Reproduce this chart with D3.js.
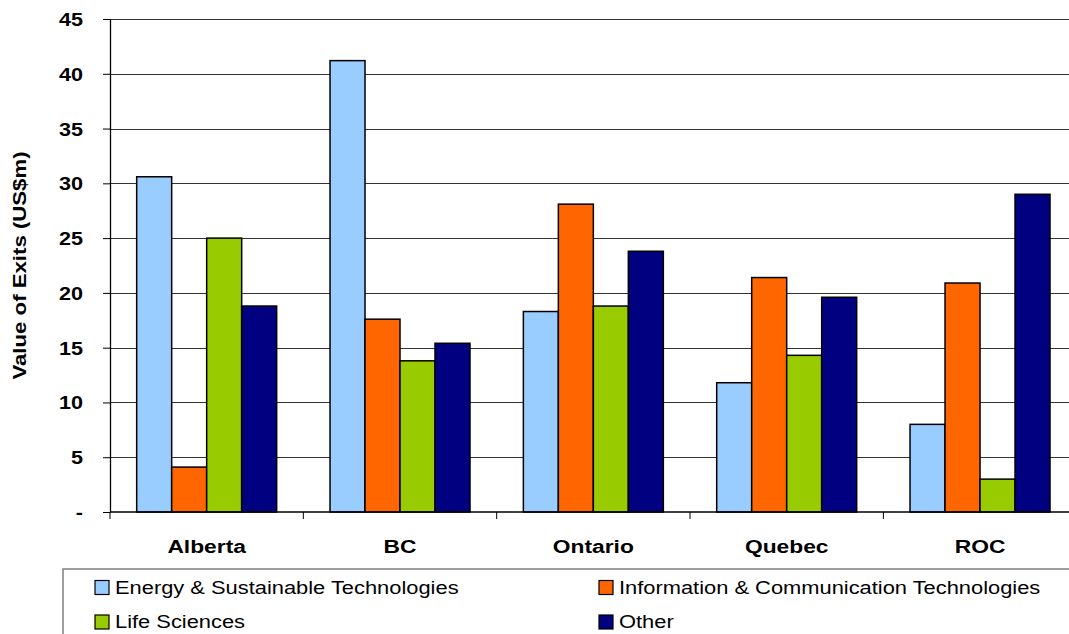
<!DOCTYPE html>
<html>
<head>
<meta charset="utf-8">
<script src="https://cdn.jsdelivr.net/npm/d3@7"></script>
<style>
  html, body { margin: 0; padding: 0; background: #fff; }
  svg { display: block; font-family: Arial, "Liberation Sans", sans-serif; }
</style>
</head>
<body>
<svg id="chart" width="1069" height="634"></svg>
<script>
const categories = ["Alberta", "BC", "Ontario", "Quebec", "ROC"];
const seriesNames = ["Energy & Sustainable Technologies", "Information & Communication Technologies", "Life Sciences", "Other"];
const energy = [30.6, 41.2, 18.3, 11.8, 8.0];
const ict = [4.1, 17.6, 28.1, 21.4, 20.9];
const lifeSciences = [25.0, 13.8, 18.8, 14.3, 3.0];
const other = [18.8, 15.4, 23.8, 19.6, 29.0];
const yTicks = [0, 5, 10, 15, 20, 25, 30, 35, 40, 45];
const colors = ["#99CCFF", "#FF6600", "#99CC00", "#000080"];

const seriesValues = [energy, ict, lifeSciences, other];
const SX = 1.2; // horizontal glyph stretch to match reference rendering

const svg = d3.select("#chart");
const plot = { left: 110, right: 1076.7, top: 19, bottom: 512 };

const y = d3.scaleLinear().domain([0, 45]).range([plot.bottom, plot.top]);
const x = d3.scaleBand().domain(categories).range([plot.left, plot.right]).padding(0);
const cw = x.bandwidth();
const xs = d3.scaleBand().domain(d3.range(seriesValues.length))
  .range([cw * 0.138, cw * 0.862]).padding(0);

// gridlines
svg.append("g").selectAll("line").data(yTicks.filter(d => d > 0)).join("line")
  .attr("x1", plot.left).attr("x2", plot.right)
  .attr("y1", d => Math.round(y(d)) + 0.5).attr("y2", d => Math.round(y(d)) + 0.5)
  .attr("stroke", "#333").attr("stroke-width", 1.2);

// bars
const groups = svg.append("g").selectAll("g").data(categories).join("g")
  .attr("transform", d => `translate(${x(d)},0)`);
groups.selectAll("rect").data((c, ci) => seriesValues.map((s, si) => ({ si, v: s[ci] }))).join("rect")
  .attr("x", d => xs(d.si))
  .attr("width", xs.bandwidth())
  .attr("y", d => y(d.v))
  .attr("height", d => y(0) - y(d.v))
  .attr("fill", d => colors[d.si])
  .attr("stroke", "#000").attr("stroke-width", 1.5);

// y axis
const yAxis = svg.append("g").attr("transform", `translate(${plot.left},0)`)
  .call(d3.axisLeft(y).tickValues(yTicks).tickSize(7).tickSizeOuter(0)
    .tickFormat(d => d === 0 ? "-" : d));
yAxis.select(".domain").attr("stroke", "#000").attr("stroke-width", 1.3);
yAxis.selectAll(".tick line").attr("stroke", "#000");
yAxis.selectAll(".tick text")
  .attr("x", 0).attr("dy", "0.36em")
  .attr("transform", `translate(-27,0) scale(${SX},1)`)
  .attr("fill", "#000").attr("font-size", 18).attr("font-weight", "bold")
  .attr("font-family", "Arial, 'Liberation Sans', sans-serif");

// x axis baseline
svg.append("line").attr("x1", plot.left).attr("x2", plot.right)
  .attr("y1", y(0)).attr("y2", y(0)).attr("stroke", "#000").attr("stroke-width", 1.5);
// boundary ticks
const bounds = categories.map(c => x(c)).concat([x(categories[categories.length - 1]) + cw]);
svg.append("g").selectAll("line").data(bounds).join("line")
  .attr("x1", d => d).attr("x2", d => d)
  .attr("y1", y(0)).attr("y2", y(0) + 7).attr("stroke", "#000").attr("stroke-width", 1);
// category labels
const xAxis = svg.append("g").attr("transform", `translate(0,${plot.bottom})`)
  .call(d3.axisBottom(x).tickSize(0));
xAxis.select(".domain").remove();
xAxis.selectAll(".tick text")
  .attr("y", 0).attr("dy", 0)
  .attr("transform", `translate(0,41) scale(${SX},1)`)
  .attr("fill", "#000").attr("font-size", 19).attr("font-weight", "bold")
  .attr("font-family", "Arial, 'Liberation Sans', sans-serif");

// y axis title
svg.append("text")
  .attr("transform", `translate(26,${(plot.top + plot.bottom) / 2}) rotate(-90) scale(${SX},1)`)
  .attr("text-anchor", "middle")
  .attr("font-size", 18.5).attr("font-weight", "bold").attr("fill", "#000")
  .text("Value of Exits (US$m)");

// legend
svg.append("rect").attr("x", 63).attr("y", 569).attr("width", 1100).attr("height", 120)
  .attr("fill", "#fff").attr("stroke", "#808080").attr("stroke-width", 1.5);
const legendPos = [[95, 580.5], [599, 580.5], [95, 615], [599, 615]];
const leg = svg.append("g").selectAll("g").data(seriesNames).join("g")
  .attr("transform", (d, i) => `translate(${legendPos[i][0]},${legendPos[i][1]})`);
leg.append("rect").attr("width", 14).attr("height", 14)
  .attr("fill", (d, i) => colors[i]).attr("stroke", "#000").attr("stroke-width", 1.2);
leg.append("text")
  .attr("transform", `translate(20,13) scale(${SX * 0.985},1)`)
  .attr("font-size", 18.5).attr("fill", "#000")
  .text(d => d);
</script>
</body>
</html>
